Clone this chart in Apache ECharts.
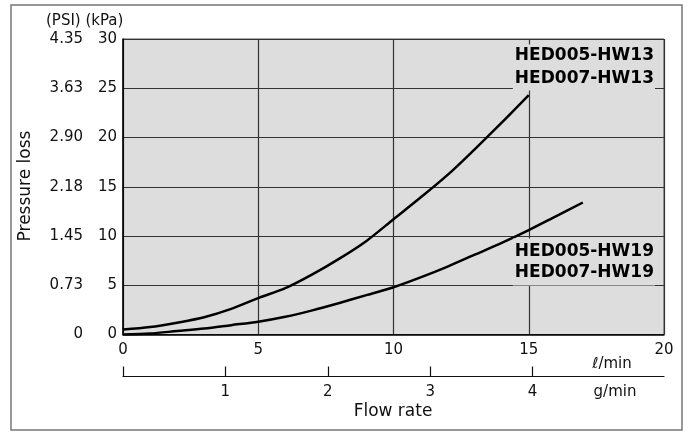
<!DOCTYPE html>
<html><head><meta charset="utf-8">
<script src="https://cdn.jsdelivr.net/npm/echarts@6/dist/echarts.min.js"></script>
<style>html,body{margin:0;padding:0;background:#fff}#c{width:692px;height:433px}</style>
</head><body><div id="c"></div>
<script>
// ---- data ----
const flowHW13 = [0,1,2,3,4,5,6,7,8,9,10,11,12,13,14,15];
const lossHW13 = [0.5,0.75,1.2,1.75,2.6,3.7,4.7,6.1,7.7,9.5,11.7,13.9,16.2,18.8,21.5,24.3];
const flowHW19 = [0,1,2,3,4,5,6,7,8,9,10,11,12,13,14,15,16,17];
const lossHW19 = [0,0.1,0.35,0.6,0.95,1.3,1.8,2.45,3.2,4.0,4.8,5.8,6.9,8.1,9.3,10.6,12.0,13.4];
const kpaTicks = [0,5,10,15,20,25,30];
const psiLabels = ['0','0.73','1.45','2.18','2.90','3.63','4.35'];
const gpmTicks = [0,1,2,3,4];
const gpmLabels = [1,2,3,4];
const LPM_PER_GPM = 3.785;
const labelHW13 = 'HED005-HW13\nHED007-HW13';
const labelHW19 = 'HED005-HW19\nHED007-HW19';

const FONT = '"DejaVu Sans", sans-serif';
const pair = (xs, ys) => xs.map((x, i) => [x, ys[i]]);
const chart = echarts.init(document.getElementById('c'));
const grid = {left:123, right:28, top:39, bottom:98.5};
chart.setOption({
  animation:false,
  grid: Object.assign({show:true, backgroundColor:'#dddddd', borderColor:'#555', borderWidth:1}, grid),
  xAxis:[
    {type:'value', min:0, max:20, interval:5, position:'bottom',
     axisLine:{onZero:false, lineStyle:{color:'#000', width:1.5}}, axisTick:{show:false},
     splitLine:{show:true, lineStyle:{color:'#333', width:1.2}},
     axisLabel:{fontFamily:FONT, fontSize:15, color:'#111', margin:8}},
    {type:'value', min:0, max:20/LPM_PER_GPM, position:'bottom', offset:42,
     axisLine:{onZero:false, lineStyle:{color:'#111', width:1.2}},
     axisTick:{show:true, inside:true, length:10, customValues:gpmTicks, lineStyle:{color:'#111', width:1.2}},
     splitLine:{show:false},
     axisLabel:{fontFamily:FONT, fontSize:15, color:'#111', margin:8, customValues:gpmLabels}}
  ],
  yAxis:[
    {type:'value', min:0, max:30, interval:5, position:'left',
     axisLine:{show:true, onZero:false, lineStyle:{color:'#000', width:1.5}}, axisTick:{show:false},
     splitLine:{show:true, lineStyle:{color:'#333', width:1.2}},
     axisLabel:{fontFamily:FONT, fontSize:15, color:'#111', margin:6}},
    {type:'value', min:0, max:30, interval:5, position:'left', offset:34,
     axisLine:{show:false, onZero:false}, axisTick:{show:false}, splitLine:{show:false},
     axisLabel:{fontFamily:FONT, fontSize:15, color:'#111', margin:6,
       formatter:v => psiLabels[kpaTicks.indexOf(v)] }}
  ],
  series:[
    {type:'line', xAxisIndex:0, yAxisIndex:0, data:pair(flowHW13, lossHW13), smooth:0.3,
     symbol:'none', lineStyle:{color:'#000', width:2.5}},
    {type:'line', xAxisIndex:0, yAxisIndex:0, data:pair(flowHW19, lossHW19), smooth:0.3,
     symbol:'none', lineStyle:{color:'#000', width:2.5}}
  ],
  graphic:[
    {type:'rect', shape:{x:11, y:5, width:671, height:425}, style:{fill:'none', stroke:'#777', lineWidth:1.5}, silent:true},
    {type:'text', x:46, y:21, style:{text:'(PSI) (kPa)', font:'15px '+FONT, fill:'#111', align:'left', verticalAlign:'middle'}},
    {type:'text', x:26, y:186, rotation:Math.PI/2, style:{text:'Pressure loss', font:'17px '+FONT, fill:'#111', align:'center', verticalAlign:'middle'}},
    {type:'text', x:393, y:412, style:{text:'Flow rate', font:'17px '+FONT, fill:'#111', align:'center', verticalAlign:'middle'}},
    {type:'text', x:612, y:364, style:{text:'ℓ/min', font:'15px '+FONT, fill:'#111', align:'center', verticalAlign:'middle'}},
    {type:'text', x:615, y:392, style:{text:'g/min', font:'15px '+FONT, fill:'#111', align:'center', verticalAlign:'middle'}},
    {type:'text', x:655, y:67.5, z:10, style:{text:labelHW13, font:'bold 17px '+FONT, fill:'#000', align:'right', verticalAlign:'middle', lineHeight:23, backgroundColor:'#dddddd', padding:[0,1,0,2]}},
    {type:'text', x:655, y:262, z:10, style:{text:labelHW19, font:'bold 17px '+FONT, fill:'#000', align:'right', verticalAlign:'middle', lineHeight:20.5, backgroundColor:'#dddddd', padding:[3,1,3,2]}}
  ]
});
</script></body></html>
